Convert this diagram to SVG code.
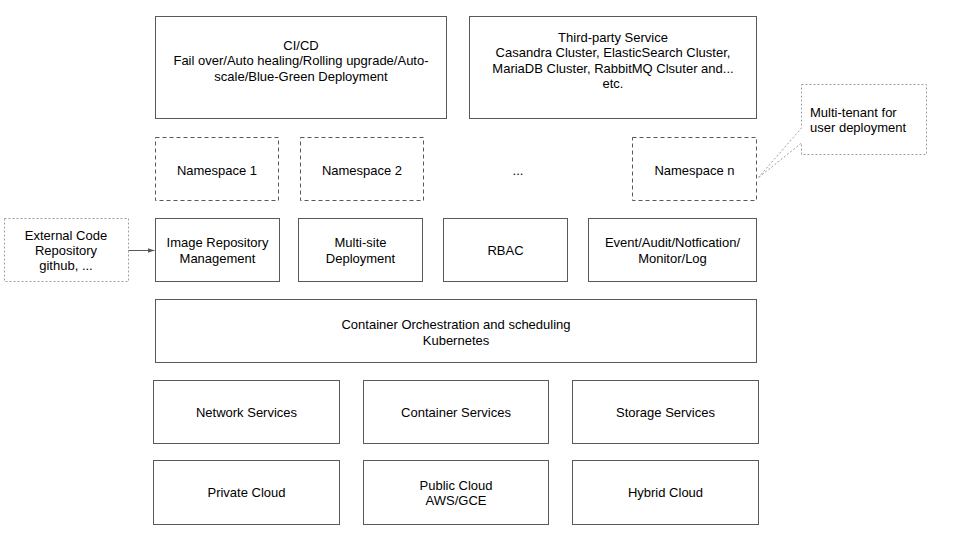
<svg xmlns="http://www.w3.org/2000/svg" width="960" height="540" viewBox="0 0 960 540">
<style>
text{font-family:"Liberation Sans",Arial,sans-serif;font-size:13px;fill:#000;text-anchor:middle}
.b{fill:#fff;stroke:#595959;stroke-width:1}
.d{fill:#fff;stroke:#595959;stroke-width:1;stroke-dasharray:4,3}
.o{fill:#fff;stroke:#9e9e9e;stroke-width:1;stroke-dasharray:2,2}
.c{stroke:#595959;stroke-width:1;fill:none}
</style>
<defs>
<marker id="ah" viewBox="0 0 10 10" refX="10" refY="5" markerWidth="7" markerHeight="7" orient="auto" markerUnits="userSpaceOnUse">
<path d="M0,1.5 L10,5 L0,8.5 Z" fill="#595959"/>
</marker>
</defs>
<rect width="960" height="540" fill="#fff"/>
<g id="cicd"><rect class="b" x="155.5" y="16.5" width="291" height="102"/>
<text x="301" y="49.5">CI/CD</text><text x="301" y="65">Fail over/Auto healing/Rolling upgrade/Auto-</text><text x="301" y="80.5">scale/Blue-Green Deployment</text></g>
<g id="thirdparty"><rect class="b" x="469.5" y="16.5" width="287" height="102"/>
<text x="613" y="42">Third-party Service</text><text x="613" y="57.3">Casandra Cluster, ElasticSearch Cluster,</text><text x="613" y="72.6">MariaDB Cluster, RabbitMQ Clsuter and...</text><text x="613" y="88">etc.</text></g>
<g id="ns1"><rect class="d" x="155.5" y="137.5" width="123" height="63"/><text x="217" y="175">Namespace 1</text></g>
<g id="ns2"><rect class="d" x="300.5" y="137.5" width="123" height="63"/><text x="362" y="175">Namespace 2</text></g>
<g id="ellipsis"><text x="518" y="175">...</text></g>
<g id="nsn"><rect class="d" x="632.5" y="137.5" width="124" height="63"/><text x="694.5" y="175">Namespace n</text></g>
<g id="callout"><path class="o" d="M801.5,84.5 H926.5 V154.5 H801.5 V143 L758,178 L801.5,128 Z"/>
<text x="810" y="117" style="text-anchor:start">Multi-tenant for</text><text x="810" y="132" style="text-anchor:start">user deployment</text></g>
<g id="extcode"><rect class="o" x="4.5" y="218.5" width="124" height="63"/>
<text x="66" y="239.5">External Code</text><text x="66" y="255">Repository</text><text x="66" y="270">github, ...</text></g>
<g id="imagerepo"><rect class="b" x="155.5" y="218.5" width="124" height="63"/><text x="217.5" y="247">Image Repository</text><text x="217.5" y="262.5">Management</text></g>
<g id="multisite"><rect class="b" x="298.5" y="218.5" width="124" height="63"/><text x="360.5" y="247">Multi-site</text><text x="360.5" y="262.5">Deployment</text></g>
<g id="rbac"><rect class="b" x="443.5" y="218.5" width="124" height="63"/><text x="505.5" y="255">RBAC</text></g>
<g id="event"><rect class="b" x="588.5" y="218.5" width="168" height="63"/><text x="672.5" y="247">Event/Audit/Notfication/</text><text x="672.5" y="262.5">Monitor/Log</text></g>
<g id="orchestration"><rect class="b" x="155.5" y="299.5" width="601" height="63"/><text x="456" y="329">Container Orchestration and scheduling</text><text x="456" y="344.5">Kubernetes</text></g>
<g id="network"><rect class="b" x="153.5" y="380.5" width="186" height="63"/><text x="246.5" y="416.5">Network Services</text></g>
<g id="container"><rect class="b" x="363.5" y="380.5" width="185" height="63"/><text x="456" y="416.5">Container Services</text></g>
<g id="storage"><rect class="b" x="572.5" y="380.5" width="186" height="63"/><text x="665.5" y="416.5">Storage Services</text></g>
<g id="private"><rect class="b" x="153.5" y="460.5" width="186" height="64"/><text x="246.5" y="497">Private Cloud</text></g>
<g id="public"><rect class="b" x="363.5" y="460.5" width="185" height="64"/><text x="456" y="489.5">Public Cloud</text><text x="456" y="505">AWS/GCE</text></g>
<g id="hybrid"><rect class="b" x="572.5" y="460.5" width="186" height="64"/><text x="665.5" y="497">Hybrid Cloud</text></g>
<g id="connectors"><path class="c" d="M128.5,250.5 H154.5" marker-end="url(#ah)"/></g>
</svg>
